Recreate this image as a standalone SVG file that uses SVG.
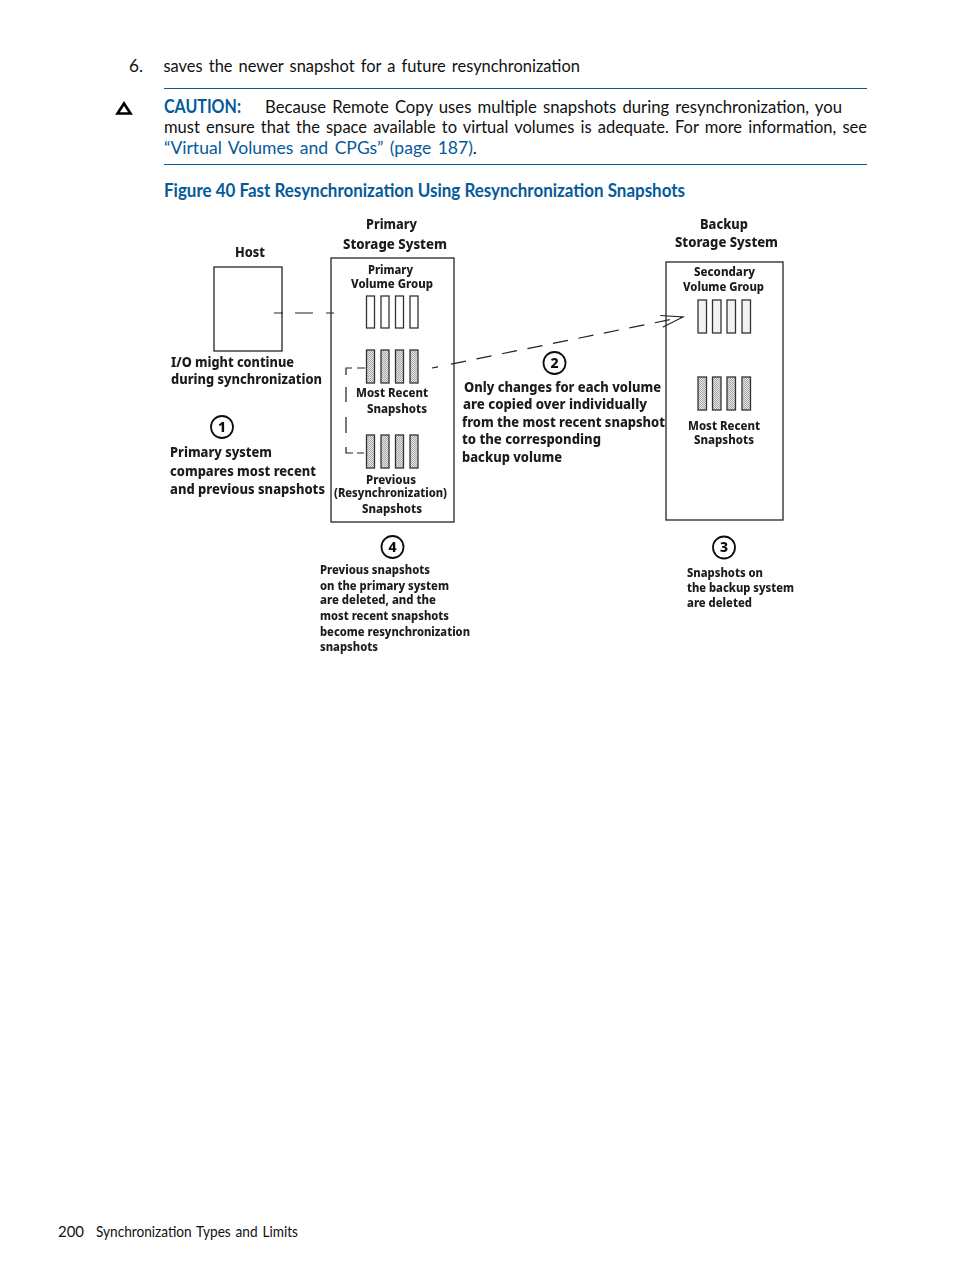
<svg xmlns="http://www.w3.org/2000/svg" width="954" height="1271" viewBox="0 0 954 1271">
<defs>
<style>
text{font-family:"Lato","Noto Sans","Liberation Sans",sans-serif;fill:#111}
.b{font-size:17.5px;word-spacing:2px}
.blue{fill:#045a9a}
.h{font-weight:700;fill:#045a9a;font-size:18px}
.d{font-family:"Noto Sans","Liberation Sans",sans-serif;font-weight:800;font-size:14px;fill:#1a1a1a}
.s{font-size:12px}
.box{fill:#fff;stroke:#222;stroke-width:1.3}
.v{fill:#fff;stroke:#333;stroke-width:1.3}
.vb{fill:#f2f2f2;stroke:#333;stroke-width:1.3}
.g{fill:url(#dots);stroke:#333;stroke-width:1.3}
.c{fill:#fff;stroke:#111;stroke-width:1.8}
.n{font-family:"Noto Sans","Liberation Sans",sans-serif;font-weight:800;font-size:14px;text-anchor:middle;fill:#111}
.l{fill:none;stroke:#222;stroke-width:1.2}
.rule{stroke:#045a9a;stroke-width:1.2}
.soft{filter:url(#soft)}
</style>
<filter id="soft" x="-5%" y="-5%" width="110%" height="110%"><feGaussianBlur stdDeviation="0.35"/></filter>
<pattern id="dots" width="2" height="2" patternUnits="userSpaceOnUse"><rect width="2" height="2" fill="#e8e8e8"/><rect width="1" height="1" fill="#a6a6a6"/><rect x="1" y="1" width="1" height="1" fill="#a6a6a6"/></pattern>
<marker id="open" markerWidth="24" markerHeight="14" refX="22" refY="7" orient="auto" markerUnits="userSpaceOnUse"><path d="M0 1 L22 7 L0 13" fill="none" stroke="#222" stroke-width="1.1"/></marker>
</defs>
<rect width="954" height="1271" fill="#fff"/>

<g id="page-text">
<text class="b" x="129" y="72" textLength="14" lengthAdjust="spacingAndGlyphs">6.</text>
<text class="b" x="163.500" y="72" textLength="416.500" lengthAdjust="spacingAndGlyphs">saves the newer snapshot for a future resynchronization</text>
<line class="rule" x1="164" y1="88.500" x2="867" y2="88.500"/>
<path d="M124 103.500 L130.500 113.500 L117.500 113.500 Z" fill="none" stroke="#000" stroke-width="2.600"/>
<text class="h" x="164" y="113" textLength="77" lengthAdjust="spacingAndGlyphs">CAUTION:</text>
<text class="b" x="265" y="113" textLength="577" lengthAdjust="spacingAndGlyphs">Because Remote Copy uses multiple snapshots during resynchronization, you</text>
<text class="b" x="164" y="133" textLength="703" lengthAdjust="spacingAndGlyphs">must ensure that the space available to virtual volumes is adequate. For more information, see</text>
<text class="b" x="164" y="154" textLength="313" lengthAdjust="spacingAndGlyphs"><tspan class="blue">“Virtual Volumes and CPGs” (page 187)</tspan>.</text>
<line class="rule" x1="164" y1="164.500" x2="867" y2="164.500"/>
<text class="h" x="164" y="197" textLength="521" lengthAdjust="spacingAndGlyphs">Figure 40 Fast Resynchronization Using Resynchronization Snapshots</text>
<text x="58" y="1237" font-size="15" textLength="26" lengthAdjust="spacingAndGlyphs">200</text>
<text x="96" y="1237" font-size="15" word-spacing="1.500" textLength="202" lengthAdjust="spacingAndGlyphs">Synchronization Types and Limits</text>
</g>

<g id="host" class="soft">
<text class="d" x="235" y="257" textLength="30" lengthAdjust="spacingAndGlyphs">Host</text>
<rect class="box" x="214" y="267" width="68" height="84"/>
</g>

<g id="primary-storage-system" class="soft">
<text class="d" x="366" y="229" textLength="51" lengthAdjust="spacingAndGlyphs">Primary</text>
<text class="d" x="343" y="249" textLength="104" lengthAdjust="spacingAndGlyphs">Storage System</text>
<rect class="box" x="331" y="258" width="123" height="264"/>
<text class="d s" x="368" y="274" textLength="45" lengthAdjust="spacingAndGlyphs">Primary</text>
<text class="d s" x="351" y="288" textLength="82" lengthAdjust="spacingAndGlyphs">Volume Group</text>
<rect class="v" x="366.500" y="296" width="8" height="32"/><rect class="v" x="381" y="296" width="8" height="32"/><rect class="v" x="395.500" y="296" width="8" height="32"/><rect class="v" x="410" y="296" width="8" height="32"/>
<rect class="g" x="366.500" y="350" width="8" height="33"/><rect class="g" x="381" y="350" width="8" height="33"/><rect class="g" x="395.500" y="350" width="8" height="33"/><rect class="g" x="410" y="350" width="8" height="33"/>
<text class="d s" x="356" y="397" textLength="72" lengthAdjust="spacingAndGlyphs">Most Recent</text>
<text class="d s" x="367" y="413" textLength="60" lengthAdjust="spacingAndGlyphs">Snapshots</text>
<rect class="g" x="366.500" y="435" width="8" height="33"/><rect class="g" x="381" y="435" width="8" height="33"/><rect class="g" x="395.500" y="435" width="8" height="33"/><rect class="g" x="410" y="435" width="8" height="33"/>
<text class="d s" x="366" y="484" textLength="50" lengthAdjust="spacingAndGlyphs">Previous</text>
<text class="d s" x="334" y="497" textLength="113" lengthAdjust="spacingAndGlyphs">(Resynchronization)</text>
<text class="d s" x="362" y="513" textLength="60" lengthAdjust="spacingAndGlyphs">Snapshots</text>
</g>

<g id="backup-storage-system" class="soft">
<text class="d" x="700" y="229" textLength="48" lengthAdjust="spacingAndGlyphs">Backup</text>
<text class="d" x="675" y="247" textLength="103" lengthAdjust="spacingAndGlyphs">Storage System</text>
<rect class="box" x="666" y="262" width="117" height="258"/>
<text class="d s" x="694" y="276" textLength="61" lengthAdjust="spacingAndGlyphs">Secondary</text>
<text class="d s" x="683" y="291" textLength="81" lengthAdjust="spacingAndGlyphs">Volume Group</text>
<rect class="vb" x="698" y="300" width="8.500" height="33"/><rect class="vb" x="712.500" y="300" width="8.500" height="33"/><rect class="vb" x="727" y="300" width="8.500" height="33"/><rect class="vb" x="742" y="300" width="8.500" height="33"/>
<rect class="g" x="698" y="377" width="8.500" height="33"/><rect class="g" x="712.500" y="377" width="8.500" height="33"/><rect class="g" x="727" y="377" width="8.500" height="33"/><rect class="g" x="742" y="377" width="8.500" height="33"/>
<text class="d s" x="688" y="430" textLength="72" lengthAdjust="spacingAndGlyphs">Most Recent</text>
<text class="d s" x="694" y="444" textLength="60" lengthAdjust="spacingAndGlyphs">Snapshots</text>
</g>

<g id="connectors" class="soft">
<path class="l" d="M274 313H283M295 313H313M326 313H334"/>
<path class="l" d="M352 368H346V375M346 387V402M346 417V433M346 447V453H353M357 368H365M357 453H364"/>
<path class="l" d="M432 368L438 366.800"/>
<path class="l" stroke-dasharray="15.300 10.700" marker-end="url(#open)" d="M451 364.100 L683 317"/>
</g>

<g id="note-io" class="soft">
<text class="d" x="171" y="367" textLength="123" lengthAdjust="spacingAndGlyphs">I/O might continue</text>
<text class="d" x="171" y="384" textLength="151" lengthAdjust="spacingAndGlyphs">during synchronization</text>
</g>
<g id="step-1" class="soft">
<circle class="c" cx="222" cy="427" r="11"/><text class="n" x="222" y="432">1</text>
<text class="d" x="170" y="457" textLength="102" lengthAdjust="spacingAndGlyphs">Primary system</text>
<text class="d" x="170" y="476" textLength="146" lengthAdjust="spacingAndGlyphs">compares most recent</text>
<text class="d" x="170" y="494" textLength="155" lengthAdjust="spacingAndGlyphs">and previous snapshots</text>
</g>
<g id="step-2" class="soft">
<circle class="c" cx="554.500" cy="363" r="11"/><text class="n" x="554.500" y="368">2</text>
<text class="d" x="464" y="392" textLength="197" lengthAdjust="spacingAndGlyphs">Only changes for each volume</text>
<text class="d" x="463" y="409" textLength="184" lengthAdjust="spacingAndGlyphs">are copied over individually</text>
<text class="d" x="462" y="427" textLength="203" lengthAdjust="spacingAndGlyphs">from the most recent snapshot</text>
<text class="d" x="462" y="444" textLength="139" lengthAdjust="spacingAndGlyphs">to the corresponding</text>
<text class="d" x="462" y="462" textLength="100" lengthAdjust="spacingAndGlyphs">backup volume</text>
</g>
<g id="step-3" class="soft">
<circle class="c" cx="724" cy="547.500" r="11"/><text class="n" x="724" y="552">3</text>
<text class="d s" x="687" y="577" textLength="76" lengthAdjust="spacingAndGlyphs">Snapshots on</text>
<text class="d s" x="687" y="592" textLength="107" lengthAdjust="spacingAndGlyphs">the backup system</text>
<text class="d s" x="687" y="607" textLength="65" lengthAdjust="spacingAndGlyphs">are deleted</text>
</g>
<g id="step-4" class="soft">
<circle class="c" cx="392.500" cy="547" r="11"/><text class="n" x="392.500" y="552">4</text>
<text class="d s" x="320" y="574" textLength="110" lengthAdjust="spacingAndGlyphs">Previous snapshots</text>
<text class="d s" x="320" y="590" textLength="129" lengthAdjust="spacingAndGlyphs">on the primary system</text>
<text class="d s" x="320" y="604" textLength="116" lengthAdjust="spacingAndGlyphs">are deleted, and the</text>
<text class="d s" x="320" y="620" textLength="129" lengthAdjust="spacingAndGlyphs">most recent snapshots</text>
<text class="d s" x="320" y="636" textLength="150" lengthAdjust="spacingAndGlyphs">become resynchronization</text>
<text class="d s" x="320" y="651" textLength="58" lengthAdjust="spacingAndGlyphs">snapshots</text>
</g>
</svg>
